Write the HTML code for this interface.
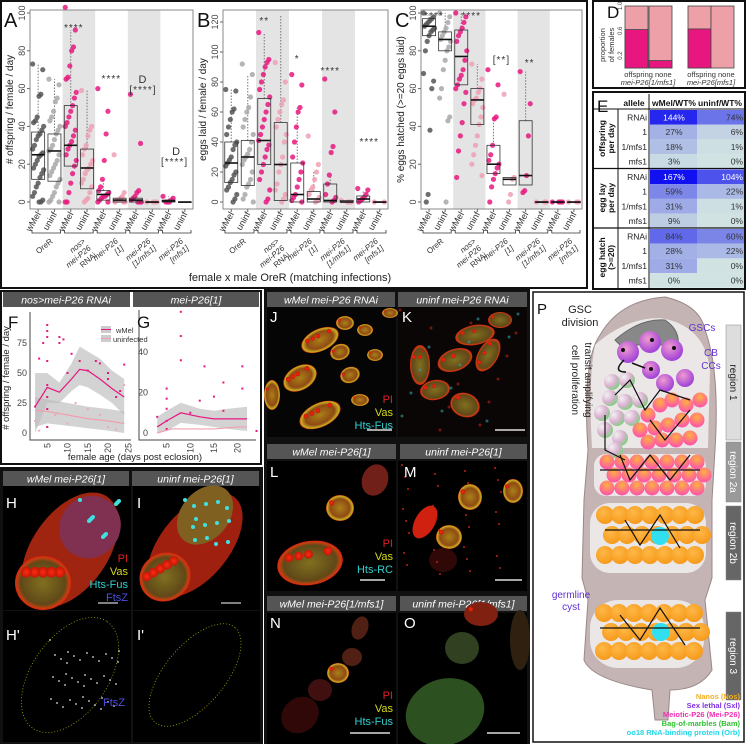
<!DOCTYPE html>
<html><head><meta charset="utf-8">
<style>
html,body{margin:0;padding:0;background:#fff;}
body{width:746px;height:744px;position:relative;overflow:hidden;font-family:"Liberation Sans",sans-serif;}
svg{position:absolute;left:0;top:0;}
</style></head>
<body>
<svg id="main" width="746" height="744" viewBox="0 0 746 744" xmlns="http://www.w3.org/2000/svg" font-family="Liberation Sans, sans-serif">
<defs>
<radialGradient id="egg" cx="50%" cy="50%" r="50%"><stop offset="0" stop-color="#a88018"/><stop offset="0.7" stop-color="#904a14"/><stop offset="0.92" stop-color="#c8b020"/><stop offset="1" stop-color="#d03010"/></radialGradient>
<radialGradient id="egg2" cx="50%" cy="50%" r="50%"><stop offset="0" stop-color="#807020"/><stop offset="0.8" stop-color="#604818"/><stop offset="0.93" stop-color="#c04010"/><stop offset="1" stop-color="#e02010"/></radialGradient>
<radialGradient id="nuc" cx="50%" cy="50%" r="50%"><stop offset="0" stop-color="#ff2a10"/><stop offset="1" stop-color="#c01808"/></radialGradient>
<radialGradient id="gPurple" cx="40%" cy="35%" r="70%"><stop offset="0" stop-color="#f09ad0"/><stop offset="1" stop-color="#9a3ad8"/></radialGradient>
<radialGradient id="gGreen" cx="30%" cy="30%" r="75%"><stop offset="0" stop-color="#f2f2f2"/><stop offset="0.6" stop-color="#dab0d0"/><stop offset="1" stop-color="#80d080"/></radialGradient>
<radialGradient id="gOrPink" cx="50%" cy="30%" r="70%"><stop offset="0" stop-color="#ffb040"/><stop offset="1" stop-color="#ff50b0"/></radialGradient>
<radialGradient id="gOr" cx="40%" cy="35%" r="70%"><stop offset="0" stop-color="#ffb848"/><stop offset="1" stop-color="#f59818"/></radialGradient>
</defs>
<g id="abc"></g>
<g id="de"></g>
<g id="fg"></g>
<g id="micro"></g>
<g id="pp"></g>
</svg>
<script>
const NS="http://www.w3.org/2000/svg";
function mk(parent,tag,attrs,text){const e=document.createElementNS(NS,tag);for(const k in attrs)e.setAttribute(k,attrs[k]);if(text!==undefined)e.textContent=text;parent.appendChild(e);return e;}

/* ===== Panels A-C data ===== */
const categories=["wMel","uninf","wMel","uninf","wMel","uninf","wMel","uninf","wMel","uninf"];
const groupLabels=[["OreR"],["nos>","mei-P26","RNAi"],["mei-P26","[1]"],["mei-P26","[1/mfs1]"],["mei-P26","[mfs1]"]];
const catColors=["#555555","#a8a8a8","#e8177f","#eea0b4","#e8177f","#eea0b4","#e8177f","#eea0b4","#e8177f","#eea0b4"];
const aMedian=[25,27,30,18,4,1,1,0,0.5,0];
const aQ1=[12,11,19,7,1,0,0,0,0,0];
const aQ3=[37,36,51,28,6,2,2,0,1,0];
const aMax=[73,65,91,59,12,3,5,0,3,0];
const aPoints=[[73,70,57,56,45,43,42,40,38,36,35,33,30,28,26,25,24,22,20,18,17,15,13,10,8,5,3,1,0,0],
[65,62,55,53,48,45,43,40,38,36,33,30,28,27,25,22,20,18,16,14,12,10,8,5,3,1,0,0],
[103,91,82,80,72,66,65,58,55,51,48,45,42,40,38,35,32,30,28,25,22,19,15,10,5,0,0],
[59,40,38,35,30,28,25,22,20,18,17,15,12,10,8,5,2,1,0],
[60,48,36,22,12,8,6,5,4,3,3,2,1,0,0],
[25,5,3,2,1,1,0,0,0],
[57,31,6,5,3,2,1,0,0,0],
[0,0,0,0],
[3,2,1,0,0,0],
[]];
const bMedian=[26,30,41,25,5,2,1,0,2,0];
const bQ1=[13,11,25,1,0,0,0,0,0,0];
const bQ3=[40,41,69,53,26,7,12,1,4,0];
const bMax=[75,85,113,125,63,20,18,1,8,0];
const bPoints=[[75,74,62,60,55,50,45,40,38,35,30,28,26,24,20,18,15,13,10,8,5,2,0],
[92,85,70,63,60,55,50,45,40,35,32,30,28,25,20,15,12,10,5,2,0],
[113,95,93,90,85,80,75,70,65,60,55,50,45,41,38,35,30,25,20,15,8,2,0],
[93,80,68,65,60,55,50,45,40,30,25,20,12,8,5,2,0],
[85,78,63,60,50,40,30,26,20,15,10,5,3,1,0],
[44,25,20,15,10,8,5,3,1,0],
[82,60,37,33,18,12,5,3,1,0],
[1,0,0,0],
[9,8,5,3,2,1,0],
[0,0]];
const cMedian=[93,86,77,54,20,12,14,0,0,0];
const cQ1=[88,80,62,41,15,9,9,0,0,0];
const cQ3=[97,90,91,60,30,13,43,0,0,0];
const cMax=[100,100,100,73,45,13,69,0,0,0];
const cPoints=[[100,98,97,96,95,94,93,92,91,90,88,85,80,68,64,60,38,4,0],
[100,98,95,92,90,88,86,85,82,80,75,70,60,55,45,43,0],
[100,98,95,92,90,88,85,80,75,70,67,65,62,60,58,52,42,35,27,13],
[73,65,60,58,55,54,52,50,45,41,35,30,25,20,14],
[70,62,45,44,30,25,22,20,18,15,12,8,0],
[57,13,12,4,0],
[69,52,35,14,6,5],
[0,0,0],
[0,0,0,0],
[0,0,0]];

const abc=document.getElementById('abc');
mk(abc,'rect',{x:1,y:1,width:586,height:287,fill:'none',stroke:'#111','stroke-width':2,});

function drawPanel(id,x0,x1,yTop,yBot,vMax,ticks,med,q1,q3,mx,pts,ylabel,letter){
  const g=mk(abc,'g',{});
  const yZero=yBot-7;
  const ys=v=>yZero-(v/vMax)*(yZero-yTop-3);
  const w=(x1-x0)/10;
  const cx=i=>x0+(i+0.5)*w;
  [2,6].forEach(i=>{const b=mk(g,'rect',{x:x0+i*w,y:yTop,width:2*w,height:yBot-yTop,fill:'#e4e4e4'});});
  mk(g,'rect',{x:x0,y:yTop,width:x1-x0,height:yBot-yTop,fill:'none',stroke:'#888','stroke-width':1});
  ticks.forEach(t=>{const y=ys(t);mk(g,'line',{x1:x0-3,x2:x0,y1:y,y2:y,stroke:'#666'});
    const tx=mk(g,'text',{x:x0-5,y:y,'font-size':9,fill:'#444','text-anchor':'middle',transform:`rotate(-90 ${x0-5} ${y})`},String(t));});
  const yl=mk(g,'text',{x:x0-17,y:(yTop+yBot)/2,'font-size':10,fill:'#222','text-anchor':'middle',transform:`rotate(-90 ${x0-17} ${(yTop+yBot)/2})`},ylabel);
  
  for(let i=0;i<10;i++){
    const c=cx(i);
    mk(g,'line',{x1:c,x2:c,y1:ys(q3[i]),y2:ys(mx[i]),stroke:'#777','stroke-dasharray':'1.5,1.5'});
    pts[i].forEach((v,k)=>{const jx=((k*37)%13/12-0.5)*11;
      const p=mk(g,'circle',{cx:c+jx,cy:ys(v),r:2.6,fill:catColors[i],'fill-opacity':0.85});
      });
    const bx=mk(g,'rect',{x:c-6.5,y:ys(q3[i]),width:13,height:Math.max(0.5,ys(q1[i])-ys(q3[i])),fill:'none',stroke:'#333','stroke-width':0.8});
    
    mk(g,'line',{x1:c-6.5,x2:c+6.5,y1:ys(med[i]),y2:ys(med[i]),stroke:'#111','stroke-width':1.6});
    mk(g,'line',{x1:c,x2:c,y1:yBot,y2:yBot+3,stroke:'#666'});
    const lx=c+3,ly=yBot+5;
    const t=mk(g,'text',{x:lx,y:ly,'font-size':9,fill:'#333','text-anchor':'end',transform:`rotate(-60 ${lx} ${ly})`},categories[i]);
    
  }
  for(let gi=0;gi<5;gi++){
    const a=x0+gi*2*w+2,b=x0+(gi+1)*2*w-2,y=yBot+24;
    mk(g,'path',{d:`M${a},${y-3}V${y}H${b}V${y-3}`,fill:'none',stroke:'#333','stroke-width':0.8});
    const lbl=groupLabels[gi];
    lbl.forEach((s,li)=>{const lx=a+w+5+li*5.5,ly=y+9+li*7;
      const t=mk(g,'text',{x:lx,y:ly,'font-size':8,fill:'#333','text-anchor':'end','font-style':(s==='OreR'||s==='RNAi')?'normal':'italic',transform:`rotate(-40 ${lx} ${ly})`},s);
      });
  }
  const L=mk(g,'text',{x:x0-26,y:yTop+17,'font-size':20,fill:'#111'},letter);
  return {cx,ys};
}
const A=drawPanel('a',30,193,10,209,100,[0,20,40,60,80,100],aMedian,aQ1,aQ3,aMax,aPoints,'# offspring / female / day','A');
const B=drawPanel('b',223,388,10,209,126,[0,20,40,60,80,100,120],bMedian,bQ1,bQ3,bMax,bPoints,'eggs laid / female / day','B');
const C=drawPanel('c',421,582,10,209,100,[0,20,40,60,80,100],cMedian,cQ1,cQ3,cMax,cPoints,'% eggs hatched (>=20 eggs laid)','C');
function star(x,y,s,sz){const t=mk(abc,'text',{x:x,y:y,'font-size':sz||10,fill:'#333','text-anchor':'middle','letter-spacing':1},s);}
star(A.cx(2)+3,31,'****');star(A.cx(4)+8,82,'****');star(A.cx(6)+7,83,'D',11);star(A.cx(6)+7,93,'[****]');
star(A.cx(8)+8,155,'D',11);star(A.cx(8)+6,165,'[****]');
star(B.cx(2),24,'**');star(B.cx(4),62,'*');star(B.cx(6),74,'****');star(B.cx(8)+6,145,'****');
star(C.cx(0)+5,19,'****');star(C.cx(2)+10,19,'****');star(C.cx(4)+8,63,'[**]');star(C.cx(6)+4,66,'**');
{const t=mk(abc,'text',{x:290,y:281,'font-size':11,fill:'#222','text-anchor':'middle'},'female x male OreR (matching infections)');}

/* ===== Panel D ===== */
const dGroups=["mei-P26[1/mfs1]","mei-P26[mfs1]"];
const dOffspring=[0.62,0.63];
const dNone=[0.12,0.0];
const de=document.getElementById('de');
mk(de,'rect',{x:593,y:1,width:152,height:87,fill:'none',stroke:'#111','stroke-width':2,});
{const dy0=68,dy1=6;const dys=v=>dy0-v*(dy0-dy1);
 const ax=mk(de,'g',{});
 [0.2,0.6,1.0].forEach(t=>{const y=dys(t);const tx=mk(ax,'text',{x:622,y:y,'font-size':6,fill:'#444','text-anchor':'middle',transform:`rotate(-90 622 ${y})`},t.toFixed(1));});
 mk(ax,'text',{x:605,y:45,'font-size':7.5,fill:'#333','text-anchor':'middle',transform:'rotate(-90 605 45)'},'proportion');
 mk(ax,'text',{x:614,y:45,'font-size':7.5,fill:'#333','text-anchor':'middle',transform:'rotate(-90 614 45)'},'of females');
 const L=mk(ax,'text',{x:607,y:18,'font-size':17,fill:'#111'},'D');
 const bx=[[625,649],[688,711]];
 for(let i=0;i<2;i++){
   [[bx[i][0],dOffspring[i],'offspring'],[bx[i][1],dNone[i],'none']].forEach(([x,v,nm])=>{
     const r=mk(ax,'rect',{x:x,y:dy1,width:23,height:dy0-dy1,fill:'#eea0a8',stroke:'#444','stroke-width':0.8});
     const b=mk(ax,'rect',{x:x,y:dys(v),width:23,height:dy0-dys(v),fill:'#e8177f',stroke:'#444','stroke-width':0.8});
   });
   mk(ax,'text',{x:bx[i][0]+23,y:77,'font-size':7.5,fill:'#333','text-anchor':'middle'},'offspring none');
   const gl=mk(ax,'text',{x:bx[i][0]+23,y:85,'font-size':7.5,fill:'#333','text-anchor':'middle','font-style':'italic'},dGroups[i]);
 }
}

/* ===== Panel E table ===== */
const eAlleles=["RNAi","1","1/mfs1","mfs1"];
const eMeasures=[["offspring","per day"],["egg lay","per day"],["egg hatch","(>=20)"]];
const eWmel=[144,27,18,3,167,59,31,9,84,28,31,0];
const eUninf=[74,6,1,0,104,22,1,0,60,22,0,0];
mk(de,'rect',{x:593,y:92,width:152,height:197,fill:'#fff',stroke:'#111','stroke-width':2,});
{const g=mk(de,'g',{});
 const col=v=>{const t=Math.min(1,v/167);const c0=[208,226,226],c1=[16,16,240];return `rgb(${c0.map((a,k)=>Math.round(a+(c1[k]-a)*Math.pow(t,0.8))).join(',')})`;};
 mk(g,'text',{x:597,y:112,'font-size':17,fill:'#111'},'E');
 mk(g,'text',{x:634,y:106,'font-size':8.5,'font-weight':'bold','text-anchor':'middle',fill:'#111'},'allele');
 mk(g,'text',{x:674,y:106,'font-size':8.5,'font-weight':'bold','text-anchor':'middle',fill:'#111'},'wMel/WT%');
 mk(g,'text',{x:720,y:106,'font-size':8.5,'font-weight':'bold','text-anchor':'middle',fill:'#111'},'uninf/WT%');
 mk(g,'line',{x1:594,x2:745,y1:109,y2:109,stroke:'#111'});
 mk(g,'line',{x1:649,x2:649,y1:94,y2:288,stroke:'#111'});
 mk(g,'line',{x1:618,x2:618,y1:109,y2:288,stroke:'#111'});
 const rh=14.7,gs=[109,168.5,228];
 for(let m=0;m<3;m++){
   if(m>0)mk(g,'line',{x1:594,x2:745,y1:gs[m],y2:gs[m],stroke:'#111','stroke-width':1.3});
   const cy=gs[m]+2*rh;
   eMeasures[m].forEach((s,k)=>{mk(g,'text',{x:605+k*9,y:cy,'font-size':8.5,'font-weight':'bold',fill:'#111','text-anchor':'middle',transform:`rotate(-90 ${605+k*9} ${cy})`},s);});
   for(let r=0;r<4;r++){
     const y=gs[m]+1+r*rh,i=m*4+r;
     mk(g,'text',{x:647,y:y+10.5,'font-size':8.5,fill:'#222','text-anchor':'end'},eAlleles[r]);
     const c1=mk(g,'rect',{x:650,y:y,width:47,height:rh,fill:col(eWmel[i])});
     const c2=mk(g,'rect',{x:697,y:y,width:47,height:rh,fill:col(eUninf[i])});
     mk(g,'text',{x:674,y:y+10.5,'font-size':8.5,fill:eWmel[i]>120?'#fff':'#333','text-anchor':'middle'},eWmel[i]+'%');
     mk(g,'text',{x:743,y:y+10.5,'font-size':8.5,fill:eUninf[i]>100?'#fff':'#333','text-anchor':'end'},eUninf[i]+'%');
   }
 }
}

/* ===== Panels F, G ===== */
const fDaysW=[2,3,4,5,5,5,5,5,5,5,5,8,8,9,10,11,13,15,17,18,20,20,22,23,24];
const fValsW=[22,62,75,90,85,80,60,40,30,20,5,80,75,78,50,66,60,52,60,58,50,45,30,35,57];
const fDaysU=[2,3,5,5,7,10,12,15,18,20,22,24];
const fValsU=[10,2,20,5,15,8,25,20,15,5,3,40];
const fSmoothDayW=[2,5,8,11,13,15,18,21,24];
const fSmoothW=[22,38,34,45,53,52,45,37,30];
const fSmoothDayU=[2,5,10,15,20,24];
const fSmoothU=[19,18,15,12,10,8];
const fRibLo=[0,25,25,35,40,38,32,25,15];
const fRibHi=[50,50,42,58,72,68,62,52,45];
const gDaysW=[3,5,5,5,5,5,8,8,8,10,12,13,15,17,17,21,21,24];
const gValsW=[8,22,17,12,6,2,60,48,36,10,16,33,18,25,11,33,22,1];
const gSmoothDayW=[3,5,8,12,15,18,22];
const gSmoothW=[3,6,10,8,7,7,7];
const gSmoothDayU=[3,6,10,15,20,22];
const gSmoothU=[0,2,2,2,3,3];
const gRibLo=[0,1,5,4,3,2,1];
const gRibHi=[8,11,15,12,11,12,13];
const fg=document.getElementById('fg');
mk(fg,'rect',{x:1,y:291,width:260,height:173,fill:'none',stroke:'#111','stroke-width':2,});
mk(fg,'rect',{x:3,y:292,width:127,height:15,fill:'#555'});
mk(fg,'rect',{x:133,y:292,width:126,height:15,fill:'#555'});
mk(fg,'text',{x:66,y:303.5,'font-size':10.5,fill:'#fff','font-style':'italic','text-anchor':'middle'},'nos>mei-P26 RNAi');
mk(fg,'text',{x:196,y:303.5,'font-size':10.5,fill:'#fff','font-style':'italic','text-anchor':'middle'},'mei-P26[1]');
function smooth(g,xs,ys,dx,dy,color){let d='';dx.forEach((x,k)=>{d+=(k?'L':'M')+xs(x)+','+ys(dy[k]);});const p=mk(g,'path',{d:d,fill:'none',stroke:color,'stroke-width':1.2});return p;}
function ribbon(g,xs,ys,dx,lo,hi){let d='';dx.forEach((x,k)=>{d+=(k?'L':'M')+xs(x)+','+ys(hi[k]);});for(let k=dx.length-1;k>=0;k--)d+='L'+xs(dx[k])+','+ys(lo[k]);d+='Z';mk(g,'path',{d:d,fill:'#bbb','fill-opacity':0.65});}
{const g=mk(fg,'g',{});
 const xs=d=>27+d*4.05,ys=v=>433-v*1.2;
 mk(g,'path',{d:'M30,312V440H131',fill:'none',stroke:'#444'});
 ribbon(g,xs,ys,fSmoothDayW,fRibLo,fRibHi);
 ribbon(g,xs,ys,[2,5,10,15,20,24],[5,8,6,4,2,0],[30,28,25,22,20,18]);
 fDaysU.forEach((d,k)=>{const c=mk(g,'rect',{x:xs(d)-1,y:ys(fValsU[k])-1,width:2,height:2,fill:'#f0a8b8'});});
 fDaysW.forEach((d,k)=>{const c=mk(g,'rect',{x:xs(d)-1,y:ys(fValsW[k])-1,width:2,height:2,fill:'#e8177f'});});
 smooth(g,xs,ys,fSmoothDayW,fSmoothW,'#e8177f');
 smooth(g,xs,ys,fSmoothDayU,fSmoothU,'#f0a0b0');
 [0,25,50,75].forEach(t=>mk(g,'text',{x:27,y:ys(t)+3,'font-size':9,fill:'#444','text-anchor':'end'},String(t)));
 [5,10,15,20,25].forEach(t=>{const x=xs(t);mk(g,'text',{x:x+3,y:443,'font-size':9,fill:'#444','text-anchor':'end',transform:`rotate(-90 ${x+3} 443)`},String(t));});
 mk(g,'text',{x:9,y:378,'font-size':9.5,fill:'#222','text-anchor':'middle',transform:'rotate(-90 9 378)'},'# offspring / female / day');
 mk(g,'text',{x:8,y:328,'font-size':17,fill:'#111'},'F');
 mk(g,'rect',{x:101,y:326,width:10,height:7,fill:'#ccc'});mk(g,'line',{x1:101,x2:111,y1:329.5,y2:329.5,stroke:'#e8177f'});
 mk(g,'rect',{x:101,y:335,width:10,height:7,fill:'#ccc'});mk(g,'line',{x1:101,x2:111,y1:338.5,y2:338.5,stroke:'#f0a0b0'});
 mk(g,'text',{x:116,y:333,'font-size':7.5,fill:'#333'},'wMel');
 mk(g,'text',{x:113,y:342,'font-size':7.5,fill:'#333'},'uninfected');
}
{const g=mk(fg,'g',{});
 const xs=d=>143+d*4.73,ys=v=>433-v*2.02;
 mk(g,'path',{d:'M139,310V440H256',fill:'none',stroke:'#444'});
 ribbon(g,xs,ys,gSmoothDayW,gRibLo,gRibHi);
 gDaysW.forEach((d,k)=>{const c=mk(g,'rect',{x:xs(d)-1,y:ys(gValsW[k])-1,width:2,height:2,fill:'#e8177f'});});
 smooth(g,xs,ys,gSmoothDayW,gSmoothW,'#e8177f');
 smooth(g,xs,ys,gSmoothDayU,gSmoothU,'#f0a0b0');
 [0,20,40].forEach(t=>mk(g,'text',{x:148,y:ys(t)+3,'font-size':9,fill:'#444','text-anchor':'end'},String(t)));
 [5,10,15,20].forEach(t=>{const x=xs(t);mk(g,'text',{x:x+3,y:443,'font-size':9,fill:'#444','text-anchor':'end',transform:`rotate(-90 ${x+3} 443)`},String(t));});
 mk(g,'text',{x:137,y:328,'font-size':17,fill:'#111'},'G');
}
mk(fg,'text',{x:135,y:460,'font-size':9.5,fill:'#222','text-anchor':'middle'},'female age (days post eclosion)');

/* ===== Microscopy ===== */
const mi=document.getElementById('micro');
function header(x,y,w,txt){mk(mi,'rect',{x:x,y:y,width:w,height:15,fill:'#555'});const t=mk(mi,'text',{x:x+w/2,y:y+11.5,'font-size':10.5,fill:'#fff','font-style':'italic','text-anchor':'middle'},txt);}
function letter(x,y,s){mk(mi,'text',{x:x,y:y,'font-size':15,fill:'#fff'},s);}
function egg(x,y,rx,ry,rot,fill,nn){const g=mk(mi,'g',{transform:`rotate(${rot} ${x} ${y})`});mk(g,'ellipse',{cx:x,cy:y,rx:rx,ry:ry,fill:fill||'url(#egg)'});for(let k=0;k<(nn||0);k++){mk(g,'circle',{cx:x+((k*7)%5-2)*rx*0.3,cy:y+((k*3)%3-1)*ry*0.4,r:Math.min(rx,ry)*0.2,fill:'url(#nuc)'});}}
mk(mi,'rect',{x:0,y:467,width:263,height:277,fill:'#111'});
mk(mi,'rect',{x:264,y:289,width:266,height:455,fill:'#111'});
/* H, I */
mk(mi,'rect',{x:3,y:486,width:128,height:124,fill:'#000'});mk(mi,'rect',{x:133,y:486,width:127,height:124,fill:'#000'});
mk(mi,'rect',{x:3,y:611,width:128,height:131,fill:'#000'});mk(mi,'rect',{x:133,y:611,width:127,height:131,fill:'#000'});
header(3,471,126,'wMel mei-P26[1]');header(132,471,127,'uninf mei-P26[1]');
egg(70,550,65,38,-55,'#a02510');egg(43,583,28,27,0,'url(#egg2)',6);egg(90,527,32,30,-50,'#803050');
egg(195,545,62,34,-50,'#a02010');egg(165,577,26,24,-30,'url(#egg2)',5);egg(205,515,33,24,-50,'#806020');
for(let k=0;k<14;k++){mk(mi,'circle',{cx:80+(k*13)%40,cy:500+(k*17)%50,r:2,fill:'#40e0e0'});mk(mi,'circle',{cx:185+(k*11)%45,cy:500+(k*19)%55,r:2,fill:'#40e0e0'});}
mk(mi,'ellipse',{cx:70,cy:675,rx:65,ry:38,transform:'rotate(-55 70 675)',fill:'none',stroke:'#aa0','stroke-width':0.8,'stroke-dasharray':'1,2'});
mk(mi,'ellipse',{cx:195,cy:675,rx:62,ry:30,transform:'rotate(-50 195 675)',fill:'none',stroke:'#aa0','stroke-width':0.8,'stroke-dasharray':'1,2'});
for(let k=0;k<40;k++)mk(mi,'circle',{cx:50+(k*17)%70,cy:640+(k*23)%70,r:1,fill:'#aaa'});
letter(6,508,'H');letter(137,508,'I');letter(6,640,"H'");letter(137,640,"I'");
[['PI','#e02020',562],['Vas','#d8d820',575],['Hts-Fus','#30d0d0',588],['FtsZ','#5050e0',601]].forEach(([s,c,y])=>mk(mi,'text',{x:128,y:y,'font-size':11,fill:c,'text-anchor':'end'},s));
mk(mi,'text',{x:125,y:706,'font-size':11,fill:'#5050e0','text-anchor':'end'},'FtsZ');
mk(mi,'line',{x1:98,x2:118,y1:603,y2:603,stroke:'#aaa','stroke-width':1.5});mk(mi,'line',{x1:221,x2:241,y1:603,y2:603,stroke:'#aaa','stroke-width':1.5});
/* J K */
mk(mi,'rect',{x:267,y:307,width:129,height:130,fill:'#050505'});mk(mi,'rect',{x:398,y:307,width:129,height:130,fill:'#0a0606'});
header(267,292,128,'wMel mei-P26 RNAi');header(398,292,129,'uninf mei-P26 RNAi');
[[320,340,20,11,-25,4],[300,378,18,12,-30,4],[320,415,22,12,-25,4],[345,323,9,7,0,1],[340,352,10,8,-20,1],[350,375,10,8,-20,1],[360,400,9,6,0,1],[365,330,8,6,0,1],[375,355,8,6,0,1],[390,313,8,5,0,1],[272,395,8,15,0,1]].forEach(e=>egg(...e.slice(0,5),'url(#egg)',e[5]));
[[455,360,18,11,-20,2],[420,365,10,20,0,2],[475,335,20,10,-10,2],[488,355,18,10,-60,3],[435,390,15,10,-10,2],[465,405,15,12,20,1],[500,320,12,8,0,1]].forEach(e=>egg(...e.slice(0,5),'url(#egg2)',e[5]));
for(let k=0;k<25;k++)mk(mi,'circle',{cx:400+(k*29)%125,cy:310+(k*37)%125,r:1.5,fill:k%2?'#30a0a0':'#c02010','fill-opacity':0.6});
letter(270,322,'J');letter(402,322,'K');
[['PI','#e02020',403],['Vas','#d8d820',416],['Hts-Fus','#30d0d0',429]].forEach(([s,c,y])=>mk(mi,'text',{x:393,y:y,'font-size':11,fill:c,'text-anchor':'end'},s));
mk(mi,'line',{x1:367,x2:392,y1:430,y2:430,stroke:'#ddd','stroke-width':1.5});mk(mi,'line',{x1:495,x2:525,y1:430,y2:430,stroke:'#ddd','stroke-width':1.5});
/* L M */
mk(mi,'rect',{x:267,y:461,width:129,height:130,fill:'#000'});mk(mi,'rect',{x:398,y:461,width:129,height:130,fill:'#000'});
header(267,444,129,'wMel mei-P26[1]');header(400,444,127,'uninf mei-P26[1]');
egg(310,563,33,22,-10,'url(#egg2)',4);egg(340,508,14,13,0,'url(#egg)',1);egg(375,480,13,16,20,'#702018',0);
egg(470,497,12,13,0,'url(#egg)',1);egg(449,537,13,12,0,'url(#egg)',1);egg(513,491,10,12,0,'url(#egg)',1);egg(443,560,14,12,0,'#300808');egg(425,522,10,18,30,'#d02010');
for(let k=0;k<30;k++)mk(mi,'circle',{cx:402+(k*31)%123,cy:465+(k*41)%120,r:1,fill:'#c02010'});
letter(270,477,'L');letter(404,477,'M');
[['PI','#e02020',547],['Vas','#d8d820',560],['Hts-RC','#30d0d0',573]].forEach(([s,c,y])=>mk(mi,'text',{x:393,y:y,'font-size':11,fill:c,'text-anchor':'end'},s));
mk(mi,'line',{x1:360,x2:385,y1:580,y2:580,stroke:'#ddd','stroke-width':1.5});mk(mi,'line',{x1:495,x2:522,y1:580,y2:580,stroke:'#ddd','stroke-width':1.5});
/* N O */
mk(mi,'rect',{x:267,y:613,width:129,height:131,fill:'#000'});mk(mi,'rect',{x:398,y:613,width:129,height:131,fill:'#000'});
header(267,596,129,'wMel mei-P26[1/mfs1]');header(400,596,127,'uninf mei-P26[1/mfs1]');
egg(300,715,20,17,-40,'#300808');egg(320,690,12,11,0,'#401010');egg(338,673,11,10,0,'url(#egg)',1);egg(352,657,10,9,0,'#502015');egg(360,628,8,12,20,'#502015');
egg(445,712,40,33,-20,'#2c5020');egg(462,648,17,16,0,'#304020');egg(481,614,17,12,0,'#802010',1);egg(520,640,10,30,0,'#302010');
letter(270,628,'N');letter(404,628,'O');
[['PI','#e02020',699],['Vas','#d8d820',712],['Hts-Fus','#30d0d0',725]].forEach(([s,c,y])=>mk(mi,'text',{x:393,y:y,'font-size':11,fill:c,'text-anchor':'end'},s));
mk(mi,'line',{x1:350,x2:390,y1:733,y2:733,stroke:'#ddd','stroke-width':1.5});mk(mi,'line',{x1:487,x2:520,y1:733,y2:733,stroke:'#ddd','stroke-width':1.5});

/* ===== Panel P ===== */
const pp=document.getElementById('pp');
mk(pp,'rect',{x:533,y:292,width:211,height:450,fill:'#fff',stroke:'#111','stroke-width':1.5,});
{const g=mk(pp,'g',{});
 mk(g,'path',{d:'M600,335 Q620,300 665,297 Q700,305 705,330 Q720,370 715,450 L712,500 L712,578 L705,600 L712,670 Q700,690 670,690 L668,720 L655,720 L652,690 Q592,680 584,660 L588,600 L582,578 L584,500 L588,450 Q582,360 600,335Z',fill:'#c4b4b4',stroke:'#9a8888'});
 mk(g,'path',{d:'M595,345 Q625,318 660,318 Q705,325 710,370 L708,448 L592,448 Q588,380 595,345Z',fill:'#ebe7e7'});
 mk(g,'rect',{x:594,y:454,width:112,height:42,rx:12,fill:'#ebe7e7'});
 mk(g,'rect',{x:590,y:503,width:116,height:70,rx:20,fill:'#ebe7e7'});
 mk(g,'rect',{x:590,y:600,width:114,height:68,rx:28,fill:'#ebe7e7'});
 mk(g,'path',{d:'M615,340 Q640,318 665,320 Q680,330 678,345 L620,345Z',fill:'#888',stroke:'#666'});
 [[628,352,11],[650,342,11],[672,350,11]].forEach(c=>{mk(g,'circle',{cx:c[0],cy:c[1],r:c[2],fill:'url(#gPurple)'});mk(g,'circle',{cx:c[0]+(c[0]==628?-5:2),cy:c[1]-2,r:2,fill:'#111'});});
 [[651,370,9,'url(#gPurple)'],[665,383,9,'url(#gPurple)'],[685,378,9,'url(#gPurple)']].forEach(c=>mk(g,'circle',{cx:c[0],cy:c[1],r:c[2],fill:c[3]}));
 mk(g,'circle',{cx:651,cy:369,r:2,fill:'#111'});
 [[612,382],[627,380],[610,398],[625,402],[640,400],[602,413],[617,418],[632,418],[605,430],[620,438],[615,450]].forEach(c=>mk(g,'circle',{cx:c[0],cy:c[1],r:8,fill:'url(#gGreen)'}));
 [[648,415],[660,405],[672,400],[686,405],[700,400],[640,430],[655,428],[668,425],[682,420],[697,420],[648,442],[662,440],[676,440],[690,438]].forEach(c=>mk(g,'circle',{cx:c[0],cy:c[1],r:7.5,fill:'url(#gOrPink)'}));
 for(let r=0;r<3;r++)for(let k=0;k<7;k++)mk(g,'circle',{cx:607+k*15+(r%2)*7,cy:462+r*13,r:7.5,fill:'url(#gOrPink)'});
 for(let r=0;r<3;r++)for(let k=0;k<7;k++)mk(g,'circle',{cx:605+k*15+(r%2)*7,cy:515+r*20,r:9,fill:'url(#gOr)'});
 mk(g,'circle',{cx:660,cy:536,r:9,fill:'#30e0f0'});
 for(let r=0;r<3;r++)for(let k=0;k<7;k++)mk(g,'circle',{cx:604+k*15+(r%2)*7,cy:613+r*19,r:9,fill:'url(#gOr)'});
 mk(g,'circle',{cx:661,cy:632,r:9,fill:'#30e0f0'});
 ['M600,470 H700','M605,530 H700','M600,628 H700','M615,395 L630,380 L645,410 L660,390 L690,400','M605,415 L605,450 L625,460','M650,420 L665,440 L690,410','M620,455 L630,480 L650,455 L670,480 L690,455','M625,520 L640,545 L660,515 L680,548','M620,615 L640,640 L660,608 L685,645'].forEach(d=>mk(g,'path',{d:d,fill:'none',stroke:'#111','stroke-width':1.2}));
 mk(g,'path',{d:'M624,360 Q612,372 626,372',fill:'none',stroke:'#111','stroke-width':1.5});
 mk(g,'line',{x1:632,y1:363,x2:645,y2:368,stroke:'#111','stroke-width':1.5});
}
mk(pp,'text',{x:537,y:314,'font-size':15,fill:'#111'},'P');
mk(pp,'text',{x:580,y:313,'font-size':11,fill:'#222','text-anchor':'middle'},'GSC');
mk(pp,'text',{x:580,y:326,'font-size':11,fill:'#222','text-anchor':'middle'},'division');
mk(pp,'text',{x:702,y:331,'font-size':10,fill:'#6030d0','text-anchor':'middle'},'GSCs');
mk(pp,'text',{x:711,y:356,'font-size':10,fill:'#6030d0','text-anchor':'middle'},'CB');
mk(pp,'text',{x:711,y:369,'font-size':10,fill:'#6030d0','text-anchor':'middle'},'CCs');
mk(pp,'text',{x:585,y:380,'font-size':10,fill:'#222','text-anchor':'middle',transform:'rotate(90 585 380)'},'transit amplifying');
mk(pp,'text',{x:572,y:380,'font-size':10,fill:'#222','text-anchor':'middle',transform:'rotate(90 572 380)'},'cell proliferation');
mk(pp,'text',{x:571,y:598,'font-size':10,fill:'#6030d0','text-anchor':'middle'},'germline');
mk(pp,'text',{x:571,y:610,'font-size':10,fill:'#6030d0','text-anchor':'middle'},'cyst');
[[325,440,'#ddd','#222','region 1'],[442,502,'#999','#fff','region 2a'],[506,580,'#666','#fff','region 2b'],[612,700,'#666','#fff','region 3']].forEach(([y0,y1,f,tc,s])=>{const r=mk(pp,'rect',{x:726,y:y0,width:15,height:y1-y0,fill:f,stroke:'#888','stroke-width':0.5});
 const cy=(y0+y1)/2;mk(pp,'text',{x:730,y:cy,'font-size':10,fill:tc,'text-anchor':'middle',transform:`rotate(90 730 ${cy})`},s);});
[['Nanos (Nos)','#f5b020',699],['Sex lethal (Sxl)','#8030e0',708],['Meiotic-P26 (Mei-P26)','#f030b0',717],['Bag-of-marbles (Bam)','#30c030',726],['oo18 RNA-binding protein (Orb)','#20d8e8',735]].forEach(([s,c,y])=>{const t=mk(pp,'text',{x:740,y:y,'font-size':7.5,'font-weight':'bold',fill:c,'text-anchor':'end'},s);});
</script>
</body></html>
